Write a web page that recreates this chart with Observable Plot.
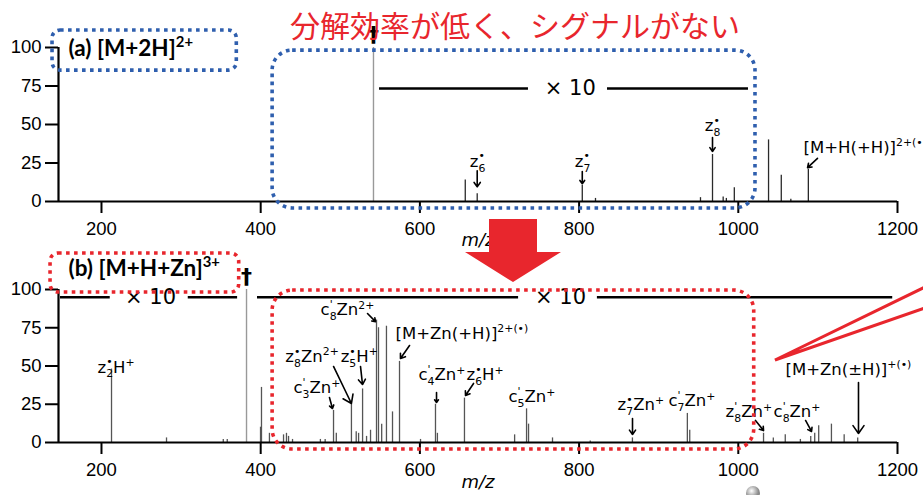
<!DOCTYPE html>
<html><head><meta charset="utf-8">
<script src="https://cdn.jsdelivr.net/npm/d3@7"></script>
<script src="https://cdn.jsdelivr.net/npm/@observablehq/plot@0.6"></script>
<style>
html,body{margin:0;padding:0;background:#fff;}
#wrap{position:relative;width:923px;height:495px;overflow:hidden;}
#wrap svg{display:block;overflow:visible;}
#overlay{position:absolute;left:0;top:0;pointer-events:none;}
#wrap g[aria-label$="tick"], #wrap .tick line {stroke-width:2px;}
</style></head>
<body><div id="wrap"></div>
<script>
// ---------- DATA ----------
const xTicks = [200, 400, 600, 800, 1000, 1200];
const yTicks = [0, 25, 50, 75, 100];

// (a) [M+2H]2+ spectrum
const precMzA = [541.7];
const precIntA = [100];
const mzA  = [657, 672, 804, 820.6, 952.5, 967.6, 981, 985, 995, 1038, 1054, 1066, 1088];
const intA = [14, 5, 10.5, 2, 2.5, 30.5, 3, 2, 9, 40, 17, 1.5, 21];

// (b) [M+H+Zn]3+ spectrum
const precMzB = [382.2];
const precIntB = [100];
const mzB  = [212.6, 281.7, 353, 358, 399.8, 401, 411, 428.7, 432.4, 435, 440, 475, 481, 491.5, 495, 514, 520, 523, 528, 533, 538, 545.5, 548, 552, 558, 565.6, 574.4, 600.8, 619.6, 622, 656, 719, 734, 736.5, 766.6, 814, 867, 936, 939, 1031.7, 1044, 1059, 1078, 1091, 1096, 1101, 1117, 1133, 1150];
const intB = [48, 3, 2, 2, 10, 36, 6, 5, 6, 4, 2, 2, 2, 21, 6, 25, 7, 6, 35, 4, 8, 80, 75, 12, 76, 20, 53, 2, 25, 6, 29, 5, 22, 12, 3, 1, 3, 19, 8, 6, 3, 5, 2, 4, 6, 11, 12, 5, 3];

// peak annotations (a)
const labTextA = ["z~{6|•}", "z~{7|•}", "z~{8|•}", "[M+H(+H)]^{2+(•)}"];
const labMzA   = [672.4, 804.3, 967.6, 1082];
const labIntA  = [26, 26, 49, 35];
const labAncA  = ["middle", "middle", "middle", "start"];
const arrFromA = [[672, 20], [804, 19.5], [967.6, 41.5], [1099.5, 28]];
const arrToA   = [[672, 9.5], [804, 11.5], [967.6, 32.5], [1087, 22]];

// peak annotations (b)
const labTextB = ["z~{2|•}H^{+}", "c~{3|'}Zn^{+}", "z~{8|•}Zn^{2+}", "z~{5|•}H^{+}", "c~{8|'}Zn^{2+}", "[M+Zn(+H)]^{2+(•)}", "c~{4|'}Zn^{+}", "z~{6|•}H^{+}", "c~{5|'}Zn^{+}", "z~{7|•}Zn^{+}", "c~{7|'}Zn^{+}", "z~{8|'}Zn^{+}", "c~{8|'}Zn^{+}", "[M+Zn(±H)]^{+(•)}"];
const labMzB   = [195, 441.2, 431, 500.5, 475.2, 569.4, 598.3, 658.5, 711.3, 848.3, 912.3, 984, 1044.3, 1059.3];
const labIntB  = [49.2, 35.5, 55.8, 55.8, 86.5, 71.4, 44, 44, 29.6, 24.4, 27, 19.8, 19.8, 47.3];
const arrFromB = [[486.4, 29.4], [491.5, 49.7], [525.4, 49.7], [534.2, 84.3], [587, 63.4], [620.9, 32.7], [667.4, 38.6], [867.1, 15.7], [1021.6, 14.4], [1084.5, 14.4], [1151, 39.2]];
const arrToB   = [[490.2, 22.2], [514, 25.5], [527.9, 37.9], [544.2, 79], [575.6, 54.9], [620.9, 26.1], [657.3, 30.7], [867.1, 5.2], [1031.7, 7.8], [1092, 7.2], [1151, 5.9]];

// x10 magnification bars
const magA = {x1: [549.3, 835.7], x2: [736.4, 1012.8], y: 73.4, text: [789]};
const magB = {x1: [148.5, 309, 396, 823], x2: [211, 371, 724, 1194], y: 95, text: [261.6, 776.7]};

// titles / boxes
const titleA = "(a) [M+2H]^{2+}";
const titleB = "(b) [M+H+Zn]^{3+}";
const titlePos = {mz: 158.6, intA: 99, intB: 113.3};
const boxA = [{x1: 415, x2: 1021.6, y1: -4.5, y2: 98, r: 20}, {x1: 138.5, x2: 370, y1: 85, y2: 111, r: 8}];
const boxB = [{x1: 415, x2: 1020, y1: -4.6, y2: 99.3, r: 20}, {x1: 136, x2: 373, y1: 98, y2: 123.5, r: 8}];
const daggerA = [{mz: 541.7, int: 108}];
const daggerB = [{mz: 382.2, int: 108}];
const headline = "分解効率が低く、シグナルがない";

// ---------- BUILD ----------
const zipPeaks = (m, v) => m.map((mz, i) => ({mz, int: v[i]}));
const zipLabels = (t, m, v, a) => t.map((s, i) => ({t: s, mz: m[i], int: v[i], anchor: a ? a[i] : "start"}));
const zipArrows = (f, t) => f.map((p, i) => ({x1: p[0], y1: p[1], x2: t[i][0], y2: t[i][1]}));

const RED = "#e8262d", BLUE = "#2f5fae";
const LABFONT = "DejaVu Sans, sans-serif";

function panel(o) {
  const labels = o.labels;
  return Plot.plot({
    width: 923, height: o.height,
    marginLeft: 58, marginRight: 26, marginTop: o.marginTop, marginBottom: o.marginBottom,
    style: {background: "transparent", overflow: "visible", fontFamily: "Liberation Sans, Arial, sans-serif", fontSize: "18.5px", color: "#000"},
    x: {domain: [146, 1200], ticks: xTicks, tickSize: 12, tickPadding: 8, label: null, tickFormat: d3.format("d")},
    y: {domain: [0, 100], ticks: yTicks, tickSize: 13, tickPadding: 4, label: null},
    marks: [
      Plot.ruleX(o.peaks, {x: "mz", y: "int", stroke: o.peakColor, strokeWidth: 1.3}),
      Plot.ruleX(o.prec, {x: "mz", y: "int", stroke: "#999", strokeWidth: 1.4}),
      Plot.ruleY([0], {stroke: "#000", strokeWidth: 2.2}),
      Plot.ruleX([146], {y1: 0, y2: 100, stroke: "#000", strokeWidth: 2.2}),
      Plot.ruleY(o.mag.x1.map((x1, i) => ({x1, x2: o.mag.x2[i]})), {x1: "x1", x2: "x2", y: o.mag.y, stroke: "#000", strokeWidth: 2.5}),
      Plot.text(o.mag.text, {x: d => d, y: o.mag.y, text: () => "× 10", fontSize: 21, fontFamily: LABFONT}),
      Plot.text(o.dagger, {x: "mz", y: "int", text: () => "†", fontSize: 22, fontWeight: "bold", fontFamily: LABFONT}),
      Plot.text(labels.filter(d => d.anchor === "middle"), {x: "mz", y: "int", text: "t", textAnchor: "middle", fontSize: 16.5, fontFamily: LABFONT}),
      Plot.text(labels.filter(d => d.anchor === "start"), {x: "mz", y: "int", text: "t", textAnchor: "start", fontSize: 16.5, fontFamily: LABFONT}),
      Plot.arrow(o.arrows, {x1: "x1", y1: "y1", x2: "x2", y2: "y2", stroke: "#000", strokeWidth: 1.6, headLength: 9, headAngle: 70}),
      Plot.rect(o.boxes, {x1: "x1", x2: "x2", y1: "y1", y2: "y2", fill: "none", stroke: o.boxColor, strokeWidth: 3.6, strokeDasharray: "3.6,4.4", rx: 20}),
      Plot.text([o.title], {x: titlePos.mz, y: o.titleInt, text: d => d, textAnchor: "start", fontSize: 22.5, fontWeight: "bold", fontFamily: "Lato, sans-serif"}),
      Plot.text(["m/z"], {frameAnchor: "bottom", dy: o.mzDy, fontStyle: "italic", fontSize: 18, fontFamily: LABFONT})
    ]
  });
}

const wrap = document.getElementById("wrap");
const topSvg = panel({
  height: 245, marginTop: 47, marginBottom: 44, peakColor: "#2a2a2a",
  peaks: zipPeaks(mzA, intA), prec: zipPeaks(precMzA, precIntA),
  labels: zipLabels(labTextA, labMzA, labIntA, labAncA), arrows: zipArrows(arrFromA, arrToA),
  mag: magA, dagger: daggerA, boxes: boxA, boxColor: BLUE, title: titleA, titleInt: titlePos.intA, mzDy: 44
});
const botSvg = panel({
  height: 250, marginTop: 44, marginBottom: 53, peakColor: "#555",
  peaks: zipPeaks(mzB, intB), prec: zipPeaks(precMzB, precIntB),
  labels: zipLabels(labTextB, labMzB, labIntB), arrows: zipArrows(arrFromB, arrToB),
  mag: magB, dagger: daggerB, boxes: boxB, boxColor: RED, title: titleB, titleInt: titlePos.intB, mzDy: 45
});
wrap.appendChild(topSvg);
wrap.appendChild(botSvg);

// small-radius corners for the label boxes
[[topSvg, boxA], [botSvg, boxB]].forEach(([svg, boxes]) => {
  const rects = d3.select(svg).selectAll("rect").filter(function() {
    return this.getAttribute("stroke-dasharray") || (this.parentNode && this.parentNode.getAttribute("stroke-dasharray"));
  });
  rects.each(function(d, i) { const b = boxes[i]; if (b) { this.setAttribute("rx", b.r); this.setAttribute("ry", b.r); } });
});

// rich text: _{sub} ^{sup} ~{sub|sup}
const NS = "http://www.w3.org/2000/svg";
function richify(svg) {
  d3.select(svg).selectAll("text").each(function() {
    const s = this.textContent;
    if (!/[_^~]\{/.test(s)) return;
    const fs = parseFloat(getComputedStyle(this).fontSize);
    const el = this;
    el.textContent = "";
    const SUB = 0.3 * fs, SUP = -0.42 * fs, small = 0.66 * fs;
    let shift = 0, pend = 0;
    const add = (txt, size, target, dx) => {
      const t = document.createElementNS(NS, "tspan");
      t.textContent = txt;
      if (size) t.setAttribute("font-size", size);
      const dy = target - shift;
      if (dy) t.setAttribute("dy", dy);
      if (dx) t.setAttribute("dx", dx);
      shift = target;
      el.appendChild(t);
      return t;
    };
    const re = /([_^~])\{([^}]*)\}|([^_^~]+|[_^~])/g;
    let m;
    while ((m = re.exec(s))) {
      if (m[3] !== undefined) { add(m[3], null, 0, pend); pend = 0; }
      else if (m[1] === "_") { add(m[2], small, SUB, pend); pend = 0; }
      else if (m[1] === "^") { add(m[2], small, SUP, pend); pend = 0; }
      else {
        const [a, b] = m[2].split("|");
        const t1 = add(a, small, SUB, pend);
        const w1 = t1.getComputedTextLength();
        const t2 = add(b, small, SUP - 0.05 * fs, -w1);
        const w2 = t2.getComputedTextLength();
        pend = Math.max(0, w1 - w2);
      }
    }
  });
}
richify(topSvg); richify(botSvg);

// overlay decorations (headline, big arrow, zoom wedge)
const ov = d3.select(wrap).append("svg").attr("id", "overlay").attr("width", 923).attr("height", 495);
ov.append("text").attr("x", 290).attr("y", 37).attr("fill", RED)
  .attr("font-family", "Noto Sans CJK JP, sans-serif").attr("font-size", 30).text(headline);
ov.append("polygon").attr("fill", RED)
  .attr("points", "489,219 537,219 537,252 561,252 513,282 465,252 489,252");
ov.append("path").attr("fill", "none").attr("stroke", RED).attr("stroke-width", 3)
  .attr("d", "M925,287 L775,360 L925,308");
const grad = ov.append("defs").append("radialGradient").attr("id", "sph").attr("cx", "40%").attr("cy", "35%");
grad.append("stop").attr("offset", "0%").attr("stop-color", "#fff");
grad.append("stop").attr("offset", "100%").attr("stop-color", "#8a8a8a");
ov.append("circle").attr("cx", 753).attr("cy", 493).attr("r", 7).attr("fill", "url(#sph)");
</script>
</body></html>
